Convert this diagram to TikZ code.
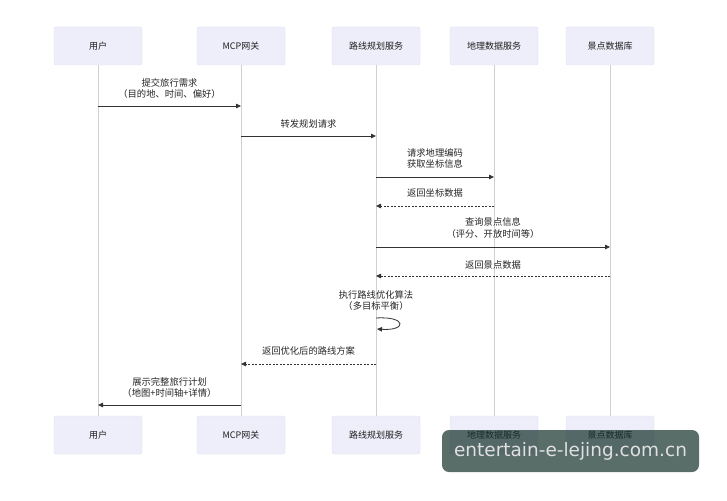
\documentclass[tikz,border=0pt]{standalone}
\usepackage{fontspec}
\setmainfont{Noto Sans CJK SC}
\newfontfamily\wmfont{DejaVu Sans}
\usetikzlibrary{arrows.meta}
\definecolor{actfill}{HTML}{EEEEFA}
\definecolor{actline}{HTML}{E2DFF0}
\definecolor{lifeln}{HTML}{CFCFD6}
\definecolor{msgcol}{HTML}{333333}
\definecolor{wmfill}{HTML}{13302A}
\tikzset{
  x=1pt, y=-1pt,
  actor/.style={draw=actline, fill=actfill, rounded corners=2pt, minimum width=88pt, minimum height=38pt, inner sep=0pt, font=\fontsize{9}{10}\selectfont, text=black!88},
  lifeline/.style={draw=lifeln, line width=0.7pt},
  msg/.style={draw=msgcol, line width=0.8pt, -{Triangle[length=5pt,width=4.5pt]}},
  reply/.style={msg, dash pattern=on 2pt off 1.5pt},
  lbl/.style={font=\fontsize{9.3}{11.5}\selectfont, text=black!85, align=center, inner sep=0pt},
}
\begin{document}
\begin{tikzpicture}
\useasboundingbox (0,0) rectangle (727,500);
\fill[white] (0,0) rectangle (727,500);
% actors
\foreach \n/\x/\t in {u/98/用户, g/241/MCP网关, r/376/路线规划服务, d/494/地理数据服务, s/610/景点数据库}{
  \node[actor] (\n t) at (\x,46) {\t};
  \node[actor] (\n b) at (\x,435) {\t};
}
\foreach \n in {u,g,r,d,s}{
  \draw[lifeline] (\n t.south) -- (\n b.north);
}
% message anchors
\coordinate (u1) at (98,106);  \coordinate (g1) at (241,106);
\coordinate (g2) at (241,136); \coordinate (r2) at (376,136);
\coordinate (r3) at (376,177); \coordinate (d3) at (494,177);
\coordinate (d4) at (494,206); \coordinate (r4) at (376,206);
\coordinate (r5) at (376,247); \coordinate (s5) at (610,247);
\coordinate (s6) at (610,276); \coordinate (r6) at (376,276);
\coordinate (r7a) at (376,318); \coordinate (r7b) at (377,329);
\coordinate (r8) at (376,364); \coordinate (g8) at (241,364);
\coordinate (g9) at (241,405); \coordinate (u9) at (98,405);

\draw[msg] (u1) -- (g1);
\node[lbl] (l1) at (169.5,88.5) {提交旅行需求\\（目的地、时间、偏好）};
\draw[msg] (g2) -- (r2);
\node[lbl] (l2) at (308.5,124) {转发规划请求};
\draw[msg] (r3) -- (d3);
\node[lbl] (l3) at (435,158.5) {请求地理编码\\获取坐标信息};
\draw[reply] (d4) -- (r4);
\node[lbl] (l4) at (435,193) {返回坐标数据};
\draw[msg] (r5) -- (s5);
\node[lbl] (l5) at (493,228) {查询景点信息\\（评分、开放时间等）};
\draw[reply] (s6) -- (r6);
\node[lbl] (l6) at (493,265) {返回景点数据};
\draw[msg] (r7a) .. controls (407,316) and (407,331) .. (r7b);
\node[lbl] (l7) at (376,300.5) {执行路线优化算法\\（多目标平衡）};
\draw[reply] (r8) -- (g8);
\node[lbl] (l8) at (308.5,351) {返回优化后的路线方案};
\draw[msg] (g9) -- (u9);
\node[lbl] (l9) at (169.5,387.5) {展示完整旅行计划\\（地图+时间轴+详情）};

% watermark
\fill[wmfill, fill opacity=0.7, rounded corners=7pt] (442,430) rectangle (699,472);
\node[inner sep=0pt, text=white!88!black, font=\wmfont\fontsize{18.5}{20}\selectfont] (wm) at (570.5,451.5) {entertain-e-lejing.com.cn};
\end{tikzpicture}
\end{document}
